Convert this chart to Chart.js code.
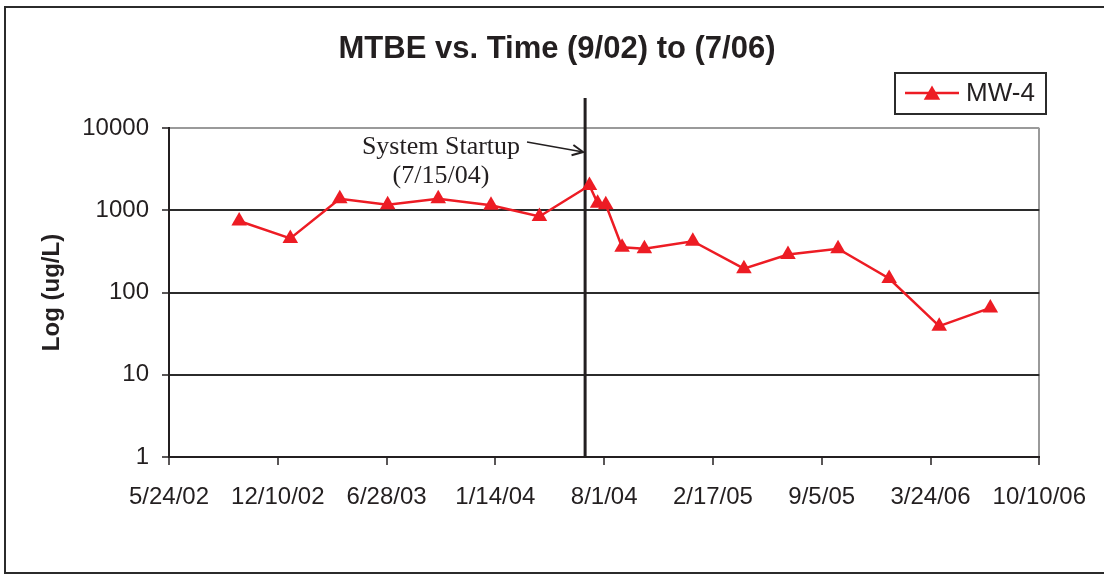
<!DOCTYPE html>
<html><head><meta charset="utf-8">
<script src="https://cdn.jsdelivr.net/npm/chart.js@4.4.1/dist/chart.umd.min.js"></script>
<style>html,body{margin:0;padding:0;background:#fff;} canvas{display:block;}</style>
</head><body>
<canvas id="c" width="1104" height="574"></canvas>
<script>
// ---- data ----
const sampleDates = ['2002-09-30','2003-01-02','2003-04-03','2003-06-30','2003-10-01','2004-01-06','2004-04-04',
  '2004-07-05','2004-07-20','2004-08-04','2004-09-03','2004-10-14','2005-01-11','2005-04-15','2005-07-05',
  '2005-10-05','2006-01-07','2006-04-09','2006-07-12'];
const mw4 = [740, 455, 1380, 1170, 1380, 1150, 840, 2000, 1220, 1170, 355, 340, 420, 195, 290, 340, 148, 39, 65];
const xTickDates = ['2002-05-24','2002-12-10','2003-06-28','2004-01-14','2004-08-01','2005-02-17','2005-09-05','2006-03-24','2006-10-10'];
const yTickValues = [1, 10, 100, 1000, 10000];
const startupDate = '2004-06-27';
const startupLabel = ['System Startup', '(7/15/04)'];
const chartTitle = 'MTBE vs. Time (9/02) to (7/06)';
const seriesName = 'MW-4';
const yAxisTitle = 'Log (ug/L)';

const RED = '#ED1C24';
const DARK = '#231f20';
const SANS = '"Liberation Sans", Arial, sans-serif';
const SERIF = '"Liberation Serif", "Times New Roman", serif';

const toMs = d => Date.parse(d + 'T00:00:00Z');
const fmtDate = v => { const d = new Date(v); return (d.getUTCMonth()+1) + '/' + d.getUTCDate() + '/' + String(d.getUTCFullYear()).slice(2); };

function triangle(ctx, x, y, r) {
  ctx.beginPath();
  for (let i = 0; i < 3; i++) {
    const a = i * 2 * Math.PI / 3;
    const px = x + Math.sin(a) * r, py = y - Math.cos(a) * r;
    if (i === 0) ctx.moveTo(px, py); else ctx.lineTo(px, py);
  }
  ctx.closePath(); ctx.fill();
}

const decor = {
  id: 'decor',
  beforeDatasetsDraw(chart) {
    const ctx = chart.ctx, ca = chart.chartArea;
    const sx = chart.scales.x.getPixelForValue(toMs(startupDate));
    ctx.save();
    ctx.strokeStyle = DARK; ctx.lineWidth = 3;
    ctx.beginPath(); ctx.moveTo(sx, 98); ctx.lineTo(sx, ca.bottom); ctx.stroke();
    ctx.restore();
  },
  afterDraw(chart) {
    const ctx = chart.ctx;
    const sx = chart.scales.x.getPixelForValue(toMs(startupDate));
    ctx.save();
    // outer frame
    ctx.strokeStyle = '#2b2b2b'; ctx.lineWidth = 2;
    ctx.strokeRect(5, 7, 1300, 566);
    // title
    ctx.fillStyle = DARK; ctx.textAlign = 'center'; ctx.textBaseline = 'alphabetic';
    ctx.font = 'bold 31px ' + SANS;
    ctx.fillText(chartTitle, 557, 58);
    // annotation text
    ctx.font = '26px ' + SERIF;
    ctx.fillText(startupLabel[0], 441, 154);
    ctx.fillText(startupLabel[1], 441, 183);
    // arrow
    const x0 = 527, y0 = 142, x1 = sx - 2, y1 = 152;
    ctx.strokeStyle = DARK; ctx.lineWidth = 1.5;
    ctx.beginPath(); ctx.moveTo(x0, y0); ctx.lineTo(x1, y1); ctx.stroke();
    const ang = Math.atan2(y1 - y0, x1 - x0), L = 12;
    ctx.lineWidth = 2;
    ctx.beginPath();
    ctx.moveTo(x1 - L * Math.cos(ang - 0.45), y1 - L * Math.sin(ang - 0.45));
    ctx.lineTo(x1, y1);
    ctx.lineTo(x1 - L * Math.cos(ang + 0.45), y1 - L * Math.sin(ang + 0.45));
    ctx.stroke();
    // legend
    ctx.lineWidth = 2; ctx.strokeStyle = '#2b2b2b';
    ctx.strokeRect(895, 73, 151, 41);
    ctx.strokeStyle = RED; ctx.lineWidth = 2.5;
    ctx.beginPath(); ctx.moveTo(905, 93); ctx.lineTo(959, 93); ctx.stroke();
    ctx.fillStyle = RED; triangle(ctx, 932, 95, 9.5);
    ctx.fillStyle = DARK; ctx.textAlign = 'left'; ctx.textBaseline = 'middle';
    ctx.font = '26px ' + SANS;
    ctx.fillText(seriesName, 966, 94);
    ctx.restore();
  }
};

new Chart(document.getElementById('c'), {
  type: 'line',
  data: {
    datasets: [{
      label: seriesName,
      data: sampleDates.map((d, i) => ({ x: toMs(d), y: mw4[i] })),
      borderColor: RED, backgroundColor: RED, borderWidth: 2.5, tension: 0,
      pointStyle: 'triangle', pointRadius: 9, pointBorderWidth: 0,
      pointBackgroundColor: RED, pointBorderColor: RED
    }]
  },
  options: {
    responsive: false, animation: false, devicePixelRatio: 1,
    layout: { padding: { left: 0, right: 63, top: 128, bottom: 0 } },
    plugins: { legend: { display: false }, title: { display: false }, tooltip: { enabled: false } },
    scales: {
      x: {
        type: 'linear',
        min: toMs(xTickDates[0]), max: toMs(xTickDates[xTickDates.length - 1]),
        afterBuildTicks: s => { s.ticks = xTickDates.map(d => ({ value: toMs(d) })); },
        afterFit: s => { s.height = 117; },
        ticks: { callback: v => fmtDate(v), autoSkip: false, maxRotation: 0, padding: 18, color: DARK,
                 font: { family: SANS, size: 24 } },
        grid: { drawOnChartArea: true, tickLength: 8, tickWidth: 1.5, tickColor: DARK, lineWidth: 2,
                color: c => (c.index === xTickDates.length - 1 ? '#9a9a9a' : 'rgba(0,0,0,0)') },
        border: { color: DARK, width: 2 }
      },
      y: {
        type: 'logarithmic', min: yTickValues[0], max: yTickValues[yTickValues.length - 1],
        afterBuildTicks: s => { s.ticks = yTickValues.map(v => ({ value: v })); },
        afterFit: s => { s.width = 169; },
        ticks: { callback: v => String(v), autoSkip: false, padding: 13, color: DARK,
                 font: { family: SANS, size: 24 } },
        grid: { tickLength: 7, tickWidth: 1.5, tickColor: DARK, lineWidth: 2,
                color: c => (c.tick && c.tick.value === 10000 ? '#9a9a9a' : '#2b2b2b') },
        border: { color: DARK, width: 2 },
        title: { display: true, text: yAxisTitle, color: DARK, padding: { top: 38, bottom: 0 },
                 font: { family: SANS, size: 24, weight: 'bold' } }
      }
    }
  },
  plugins: [decor]
});
</script>
</body></html>
